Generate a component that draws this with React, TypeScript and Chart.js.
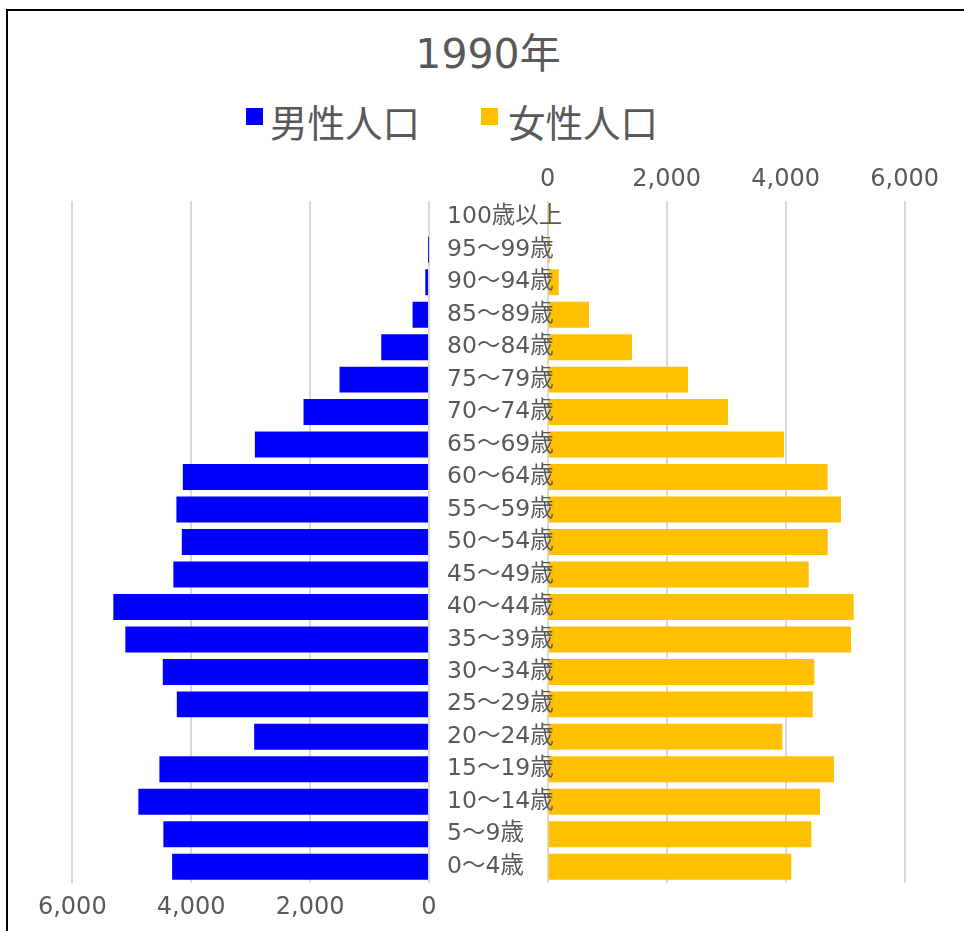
import React, { useEffect, useRef } from 'react';
import { Chart, registerables } from 'chart.js';

Chart.register(...registerables);

// ---------- data ----------
const TITLE = '1990年';
const SERIES_NAMES = ['男性人口', '女性人口'];
const AGE_GROUPS = [
  '0～4歳', '5～9歳', '10～14歳', '15～19歳', '20～24歳', '25～29歳', '30～34歳',
  '35～39歳', '40～44歳', '45～49歳', '50～54歳', '55～59歳', '60～64歳', '65～69歳',
  '70～74歳', '75～79歳', '80～84歳', '85～89歳', '90～94歳', '95～99歳', '100歳以上',
];
const MALE = [
  4321, 4468, 4889, 4535, 2941, 4242, 4478, 5108, 5310, 4300, 4158,
  4249, 4141, 2929, 2111, 1505, 803, 276, 62, 2, 0,
];
const FEMALE = [
  4094, 4431, 4577, 4812, 3943, 4454, 4481, 5098, 5143, 4387, 4706,
  4930, 4704, 3971, 3030, 2358, 1417, 694, 185, 34, 4,
];
const AXIS_MIN = 0;
const AXIS_MAX = 6000;
const AXIS_STEP = 2000;

// ---------- styles ----------
const MIXED_FONT = '"DejaVu Sans", "Noto Sans CJK JP", sans-serif';
const CJK_FONT = '"Noto Sans CJK JP", sans-serif';
const TEXT_COLOR = '#595959';
const GRID_COLOR = '#d9d9d9';
const MALE_COLOR = '#0000ff';
const FEMALE_COLOR = '#ffc000';

const fmt = (v: number | string) => Number(v).toLocaleString('en-US');

export default function App() {
  const maleRef = useRef<HTMLCanvasElement | null>(null);
  const femaleRef = useRef<HTMLCanvasElement | null>(null);

  useEffect(() => {
    const maleChart = new Chart(maleRef.current as HTMLCanvasElement, {
      type: 'bar',
      data: {
        labels: AGE_GROUPS,
        datasets: [
          {
            label: SERIES_NAMES[0],
            data: MALE,
            backgroundColor: MALE_COLOR,
            barPercentage: 0.8,
            categoryPercentage: 1,
          },
        ],
      },
      options: {
        indexAxis: 'y',
        animation: false,
        responsive: false,
        layout: { padding: { left: 72.3, right: 25, top: 0, bottom: 0 } },
        plugins: {
          legend: { display: false },
          title: { display: false },
          tooltip: { enabled: false },
        },
        scales: {
          x: {
            type: 'linear',
            position: 'bottom',
            reverse: true,
            min: AXIS_MIN,
            max: AXIS_MAX,
            ticks: {
              stepSize: AXIS_STEP,
              callback: (v: any) => fmt(v),
              color: TEXT_COLOR,
              font: { family: MIXED_FONT, size: 24 },
              padding: 10,
            },
            grid: { color: GRID_COLOR, lineWidth: 2, drawTicks: false },
            border: { display: false },
            afterFit: (s: any) => {
              s.height = 48;
            },
          },
          y: {
            type: 'category',
            reverse: true,
            display: false,
            grid: { display: false },
          },
        },
      } as any,
    });

    const femaleChart = new Chart(femaleRef.current as HTMLCanvasElement, {
      type: 'bar',
      data: {
        labels: AGE_GROUPS,
        datasets: [
          {
            label: SERIES_NAMES[1],
            data: FEMALE,
            backgroundColor: FEMALE_COLOR,
            barPercentage: 0.8,
            categoryPercentage: 1,
          },
        ],
      },
      options: {
        indexAxis: 'y',
        animation: false,
        responsive: false,
        layout: { padding: { left: 7, right: 59.3, top: 0, bottom: 48 } },
        plugins: {
          legend: { display: false },
          title: { display: false },
          tooltip: { enabled: false },
        },
        scales: {
          x: {
            type: 'linear',
            position: 'top',
            min: AXIS_MIN,
            max: AXIS_MAX,
            ticks: {
              stepSize: AXIS_STEP,
              callback: (v: any) => fmt(v),
              color: TEXT_COLOR,
              font: { family: MIXED_FONT, size: 24 },
              padding: 6.5,
            },
            grid: { color: GRID_COLOR, lineWidth: 2, drawTicks: false },
            border: { display: false },
            afterFit: (s: any) => {
              s.height = 51;
            },
          },
          y: {
            type: 'category',
            position: 'left',
            reverse: true,
            grid: { display: false },
            border: { display: false },
            ticks: {
              z: 1,
              mirror: true,
              crossAlign: 'near',
              color: TEXT_COLOR,
              font: { family: MIXED_FONT, size: 23.5 },
              padding: -100.7,
              autoSkip: false,
            },
            afterFit: (s: any) => {
              s.width = 100.7;
            },
          },
        },
      } as any,
    });

    return () => {
      maleChart.destroy();
      femaleChart.destroy();
    };
  }, []);

  return (
    <div
      style={{
        position: 'absolute',
        left: 0,
        top: 0,
        width: 964,
        height: 931,
        overflow: 'hidden',
        background: '#fff',
      }}
    >
      <div
        style={{
          position: 'absolute',
          left: 6,
          top: 9,
          width: 1100,
          height: 1100,
          borderLeft: '2px solid #000',
          borderTop: '2px solid #000',
        }}
      />
      <div
        style={{
          position: 'absolute',
          left: 0,
          top: 34,
          width: 976,
          textAlign: 'center',
          fontFamily: MIXED_FONT,
          fontSize: 41,
          lineHeight: 1,
          color: TEXT_COLOR,
          whiteSpace: 'nowrap',
        }}
      >
        {TITLE}
      </div>
      <div style={{ position: 'absolute', left: 246, top: 108, width: 17, height: 17, background: MALE_COLOR }} />
      <div
        style={{
          position: 'absolute',
          left: 270,
          top: 101.5,
          fontFamily: CJK_FONT,
          fontSize: 37.5,
          lineHeight: 1,
          color: TEXT_COLOR,
          whiteSpace: 'nowrap',
        }}
      >
        {SERIES_NAMES[0]}
      </div>
      <div style={{ position: 'absolute', left: 481, top: 108, width: 17, height: 17, background: FEMALE_COLOR }} />
      <div
        style={{
          position: 'absolute',
          left: 508,
          top: 101.5,
          fontFamily: CJK_FONT,
          fontSize: 37.5,
          lineHeight: 1,
          color: TEXT_COLOR,
          whiteSpace: 'nowrap',
        }}
      >
        {SERIES_NAMES[1]}
      </div>
      <canvas
        ref={maleRef}
        width={454}
        height={730}
        style={{ position: 'absolute', left: 0, top: 201, width: 454, height: 730 }}
      />
      <canvas
        ref={femaleRef}
        width={524}
        height={781}
        style={{ position: 'absolute', left: 440, top: 150, width: 524, height: 781 }}
      />
    </div>
  );
}
